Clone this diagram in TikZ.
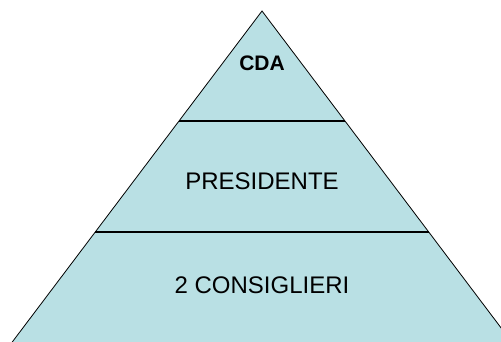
\documentclass[tikz,border=0pt]{standalone}
\usepackage{fontspec}
\setmainfont{Liberation Sans}
\usetikzlibrary{calc,positioning}
\definecolor{levelfill}{RGB}{185,224,228}

\begin{document}
\begin{tikzpicture}[x=1pt,y=-1pt,
    level/.style={font=\fontsize{24}{28}\selectfont},
    divider/.style={draw=black,line width=1.3pt}]
    \useasboundingbox (0,0) rectangle (501,341);
    \coordinate (top)   at (262,11);
    \coordinate (left)  at (10,345);
    \coordinate (right) at (514,345);

    \filldraw[fill=levelfill,draw=black,line width=0.8pt]
      (top) -- (left) -- (right) -- cycle;

    \coordinate (d1l) at ($(top)!0.3293!(left)$);
    \coordinate (d1r) at ($(top)!0.3293!(right)$);
    \coordinate (d2l) at ($(top)!0.6617!(left)$);
    \coordinate (d2r) at ($(top)!0.6617!(right)$);
    \draw[divider] (d1l) -- (d1r);
    \draw[divider] (d2l) -- (d2r);

    \node (cda)   at (262,63) [font=\fontsize{21}{25}\selectfont\bfseries] {CDA};
    \node (pres)  at (262,181) [level] {PRESIDENTE};
    \node (cons)  at (262,285) [level] {2 CONSIGLIERI};
  \end{tikzpicture}
\end{document}
